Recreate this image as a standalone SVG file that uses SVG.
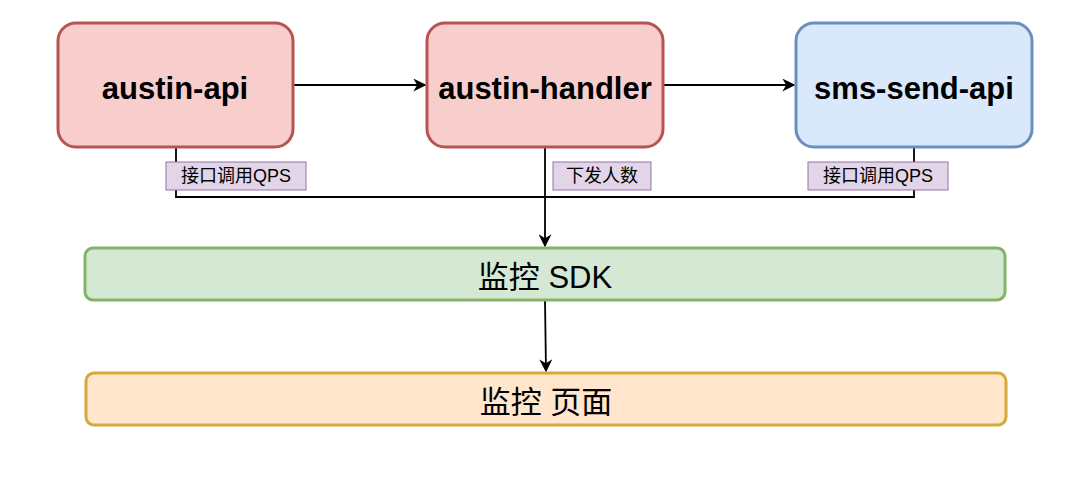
<svg xmlns="http://www.w3.org/2000/svg" width="1080" height="484" viewBox="0 0 1080 484">
<style>
.t{font-family:"Liberation Sans","Noto Sans CJK SC",sans-serif;fill:#000;text-anchor:middle;dominant-baseline:central}
.big{font-size:31px;font-weight:bold}
.mid{font-size:31px}
.lbl{font-size:18px}
.ln{fill:none;stroke:#000;stroke-width:1.8}
</style>
<defs><marker id="a" viewBox="0 0 10 10" refX="9" refY="5" markerWidth="13" markerHeight="13" markerUnits="userSpaceOnUse" orient="auto"><path d="M0,0L10,5L0,10L3,5z" fill="#000"/></marker></defs>
<rect width="1080" height="484" fill="#fff"/>
<g id="conn">
<path class="ln" d="M293,85H425" marker-end="url(#a)"/>
<path class="ln" d="M663,85H794" marker-end="url(#a)"/>
<path class="ln" d="M176,147V197H914V147"/>
<path class="ln" d="M545,147V246" marker-end="url(#a)"/>
<path class="ln" d="M545,300L546,371" marker-end="url(#a)"/>
</g>
<g id="api"><rect x="58" y="23" width="235" height="124" rx="18" fill="#f8cecc" stroke="#b85450" stroke-width="3"/><text class="t big" x="175" y="88">austin-api</text></g>
<g id="handler"><rect x="427" y="23" width="236" height="124" rx="18" fill="#f8cecc" stroke="#b85450" stroke-width="3"/><text class="t big" x="545" y="88">austin-handler</text></g>
<g id="sms"><rect x="796" y="23" width="236" height="124" rx="18" fill="#dae8fc" stroke="#6c8ebf" stroke-width="3"/><text class="t big" x="914" y="88">sms-send-api</text></g>
<g id="l1"><rect x="166" y="162" width="140" height="28" fill="#e1d5e7" stroke="#9673a6"/><text class="t lbl" x="236" y="176">接口调用QPS</text></g>
<g id="l2"><rect x="553" y="162" width="98" height="28" fill="#e1d5e7" stroke="#9673a6"/><text class="t lbl" x="602" y="176">下发人数</text></g>
<g id="l3"><rect x="808" y="162" width="140" height="28" fill="#e1d5e7" stroke="#9673a6"/><text class="t lbl" x="878" y="176">接口调用QPS</text></g>
<g id="sdk"><rect x="85" y="248" width="920" height="52" rx="8" fill="#d5e8d4" stroke="#82b366" stroke-width="3"/><text class="t mid" x="545" y="277">监控 SDK</text></g>
<g id="page"><rect x="86" y="373" width="920" height="52" rx="8" fill="#ffe6cc" stroke="#d6a93b" stroke-width="3"/><text class="t mid" x="546" y="402">监控 页面</text></g>
</svg>
